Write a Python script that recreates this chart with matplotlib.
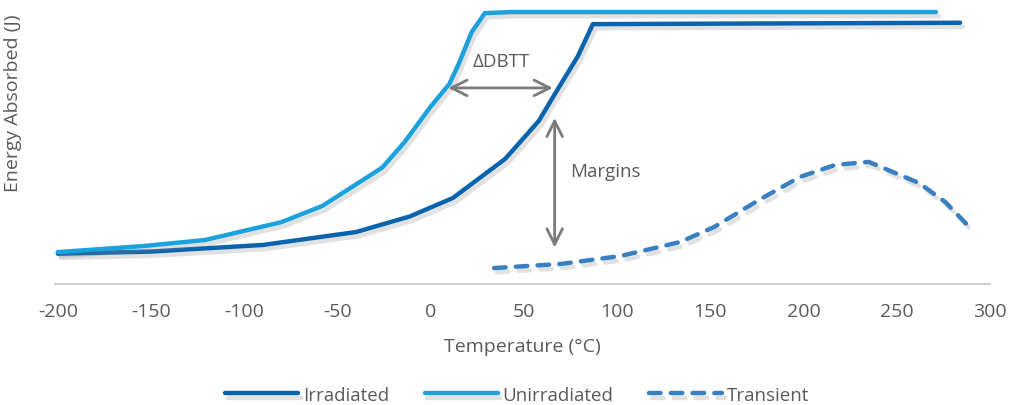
import matplotlib as mpl
mpl.use('Agg')
import matplotlib.pyplot as plt
import matplotlib.patheffects as pe

plt.rcParams['font.family'] = ['Open Sans', 'DejaVu Sans']

# data (energy in arbitrary units, 0-100)
unirr_t = [-200, -154, -121, -80, -58, -44, -26, -14, 0, 10, 15, 22, 25, 29, 44, 271]
unirr_e = [11.6, 13.8, 16.0, 22.5, 28.4, 34.5, 42.3, 51.6, 64.5, 72.7, 80.0, 91.6, 94.5, 98.5, 98.9, 98.9]

irr_t = [-200, -150, -90, -40, -11, 12, 40, 58, 66, 79, 87, 284]
irr_e = [11.0, 11.8, 14.2, 18.9, 24.6, 31.3, 45.5, 59.3, 68.4, 82.9, 94.5, 95.0]

trans_t = [34, 70, 102, 134, 152, 177, 198, 217, 235, 262, 276, 290]
trans_e = [5.8, 7.3, 10.2, 15.3, 20.7, 30.9, 38.9, 43.3, 44.4, 36.7, 29.8, 20.0]

xticks = [-200, -150, -100, -50, 0, 50, 100, 150, 200, 250, 300]

c_irr = '#0a63ad'
c_unirr = '#1ba1de'
c_trans = '#3a7fc0'
c_text = '#5a5a5a'
c_arrow = '#7a7a7a'

fig = plt.figure(figsize=(10.09, 4.06), dpi=100)
ax = fig.add_axes([55 / 1009, 1 - 285 / 406, 935 / 1009, 275 / 406])

shadow = [pe.SimpleLineShadow(offset=(2, -3), shadow_color='#888888', alpha=0.25), pe.Normal()]

ax.plot(irr_t, irr_e, color=c_irr, lw=3.2, solid_capstyle='round', solid_joinstyle='round',
        path_effects=shadow, label='Irradiated', zorder=3)
ax.plot(unirr_t, unirr_e, color=c_unirr, lw=3.2, solid_capstyle='round', solid_joinstyle='round',
        path_effects=shadow, label='Unirradiated', zorder=3)
ax.plot(trans_t, trans_e, color=c_trans, lw=3.2, ls=(0, (2.6, 2.3)), dash_capstyle='round',
        path_effects=shadow, label='Transient', zorder=3)

# annotations
arrow = dict(arrowstyle='<->', color=c_arrow, lw=2, mutation_scale=28, shrinkA=0, shrinkB=0)
ax.annotate('', xy=(9.5, 71.3), xytext=(65.5, 71.3), arrowprops=arrow)
ax.text(38, 81, '\u0394DBTT', color=c_text, fontsize=13.5, ha='center', va='center')
ax.annotate('', xy=(66.5, 60.4), xytext=(66.5, 13.3), arrowprops=arrow)
ax.text(75, 41, 'Margins', color=c_text, fontsize=13.5, ha='left', va='center')

ax.set_xlim(-201.5, 300)
ax.set_ylim(0, 100)
ax.set_xticks(xticks)
ax.set_xticklabels([str(t) for t in xticks])
ax.set_yticks([])
for s in ['top', 'right', 'left']:
    ax.spines[s].set_visible(False)
ax.spines['bottom'].set_color('#d0d0d0')
ax.spines['bottom'].set_linewidth(1.5)
ax.tick_params(axis='x', length=0, pad=13, labelsize=14, colors=c_text)

ax.set_xlabel('Temperature (\u00b0C)', fontsize=14, color=c_text, labelpad=12)
ax.set_ylabel('Energy Absorbed (J)', fontsize=14, color=c_text)
ax.yaxis.set_label_coords(-0.035, 0.66)

handles, labels = ax.get_legend_handles_labels()
leg = fig.legend(handles, labels, loc='center', bbox_to_anchor=(517 / 1009, 1 - 396 / 406),
                 ncol=3, frameon=False, fontsize=13.5, handlelength=3.9,
                 handletextpad=0.25, columnspacing=1.9, borderpad=0)
for t in leg.get_texts():
    t.set_color(c_text)

plt.savefig('out.png', dpi=100)
